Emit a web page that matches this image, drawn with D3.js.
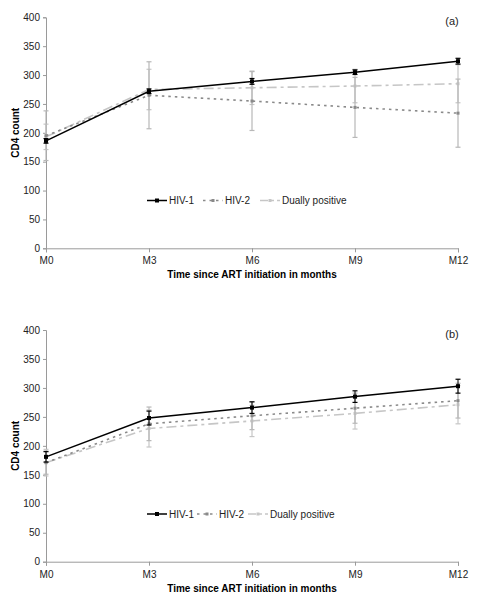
<!DOCTYPE html>
<html><head><meta charset="utf-8">
<script src="https://cdn.jsdelivr.net/npm/d3@7"></script>
<style>body{margin:0;background:#fff}svg{display:block}text{font-family:Arial,"Liberation Sans",sans-serif}</style>
</head><body><svg id="c" width="483" height="600"></svg>
<script>
const months = ["M0","M3","M6","M9","M12"];
const yTicks = [0,50,100,150,200,250,300,350,400];
const seriesNames = ["HIV-1","HIV-2","Dually positive"];
// Panel (a)
const aHiv1 = [186,272,289,305,324];
const aHiv1Err = [4,4,5,4,5];
const aHiv2 = [195,265,255,244,234];
const aHiv2Err = [43,58,51,52,59];
const aDual = [193,275,278,281,285];
const aDualErr = [22,35,29,29,33];
// Panel (b)
const bHiv1 = [181,248,266,285,303];
const bHiv1Err = [9,12,10,10,12];
const bHiv2 = [171,238,252,265,278];
const bHiv2Err = [20,29,24,26,30];
const bDual = [171,230,243,256,271];
const bDualErr = [23,32,27,27,33];

const svg = d3.select("#c");
const styles = [
  {color:"#000", width:1.5, dash:null, ebColor:"#000", marker:"#000", ms:4},
  {color:"#8a8a8a", width:1.6, dash:"2.5,4", ebColor:"#b8b8b8", marker:"#8a8a8a", ms:3},
  {color:"#c6c6c6", width:1.6, dash:"10,4,3,4", ebColor:"#c6c6c6", marker:"#c6c6c6", ms:3}
];

function panel(top, bottom, label, data, legendY, legendX){
  const g = svg.append("g");
  const x = d3.scalePoint().domain(months).range([46,458]);
  const y = d3.scaleLinear().domain([0,400]).range([bottom, top]);
  const ya = g.append("g").attr("transform","translate(46,0)")
    .call(d3.axisLeft(y).tickValues(yTicks).tickSize(3).tickPadding(3));
  const xa = g.append("g").attr("transform",`translate(0,${bottom})`)
    .call(d3.axisBottom(x).tickSize(4).tickPadding(5));
  [ya,xa].forEach(a=>{
    a.select(".domain").attr("stroke","#9a9a9a");
    a.selectAll(".tick line").attr("stroke","#9a9a9a");
    a.selectAll(".tick text").attr("font-size",10).attr("fill","#222").attr("font-family","Arial, 'Liberation Sans', sans-serif");
  });
  g.append("text").attr("transform",`translate(19,${(top+bottom)/2}) rotate(-90)`)
    .attr("text-anchor","middle").attr("font-size",10).attr("font-weight","bold").text("CD4 count");
  g.append("text").attr("x",252).attr("y",bottom+30).attr("text-anchor","middle")
    .attr("font-size",10).attr("font-weight","bold").text("Time since ART initiation in months");
  g.append("text").attr("x",452).attr("y",top+8).attr("text-anchor","middle")
    .attr("font-size",11).attr("fill","#222").text(label);

  [2,1,0].forEach(i=>{
    const s = styles[i], vals = data[i].v, errs = data[i].e;
    const eb = g.append("g");
    months.forEach((m,k)=>{
      const cx = x(m), y1 = y(vals[k]+errs[k]), y2 = y(vals[k]-errs[k]);
      eb.append("line").attr("x1",cx).attr("x2",cx).attr("y1",y1).attr("y2",y2)
        .attr("stroke",s.ebColor).attr("stroke-width",i===0?1:1.2);
      [y1,y2].forEach(yy=>eb.append("line").attr("x1",cx-2.5).attr("x2",cx+2.5).attr("y1",yy).attr("y2",yy)
        .attr("stroke",s.ebColor).attr("stroke-width",1.2));
    });
    const line = d3.line().x((d,k)=>x(months[k])).y(d=>y(d));
    g.append("path").datum(vals).attr("d",line).attr("fill","none")
      .attr("stroke",s.color).attr("stroke-width",s.width).attr("stroke-dasharray",s.dash);
    g.selectAll(null).data(vals).enter().append("rect")
      .attr("x",(d,k)=>x(months[k])-s.ms/2).attr("y",d=>y(d)-s.ms/2).attr("width",s.ms).attr("height",s.ms)
      .attr("fill",s.marker);
  });

  legendX.forEach((lx,i)=>{
    const s = styles[i];
    g.append("line").attr("x1",lx).attr("x2",lx+20).attr("y1",legendY).attr("y2",legendY)
      .attr("stroke",s.color).attr("stroke-width",s.width).attr("stroke-dasharray",i===2?"8,3,3,3":s.dash);
    g.append("rect").attr("x",lx+10-s.ms/2).attr("y",legendY-s.ms/2).attr("width",s.ms).attr("height",s.ms).attr("fill",s.marker);
    g.append("text").attr("x",lx+22).attr("y",legendY+3.5).attr("font-size",10).attr("fill","#222").text(seriesNames[i]);
  });
}

panel(17.3, 248.3, "(a)", [
  {v:aHiv1,e:aHiv1Err},{v:aHiv2,e:aHiv2Err},{v:aDual,e:aDualErr}
], 200.5, [147,203,260]);
panel(330, 561.7, "(b)", [
  {v:bHiv1,e:bHiv1Err},{v:bHiv2,e:bHiv2Err},{v:bDual,e:bDualErr}
], 514, [147,197,248]);
</script></body></html>
